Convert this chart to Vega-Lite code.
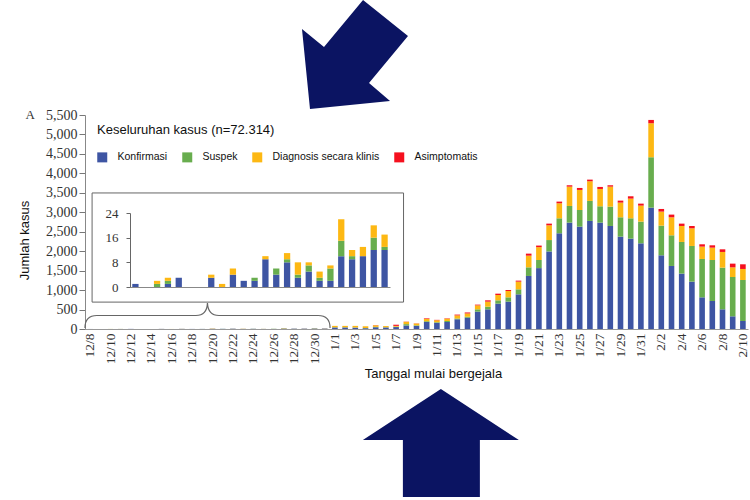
{
  "$schema": "https://vega.github.io/schema/vega-lite/v6.json",
  "width": 663,
  "height": 214,
  "autosize": "none",
  "padding": {"left": 85, "top": 115, "right": 2, "bottom": 171},
  "background": "white",
  "config": {"view": {"stroke": null}, "font": "Liberation Sans", "axis": {"grid": false}},
  "datasets": {
    "urutan": [
      {"kategori": "Konfirmasi", "urut": 1},
      {"kategori": "Suspek", "urut": 2},
      {"kategori": "Diagnosis secara klinis", "urut": 3},
      {"kategori": "Asimptomatis", "urut": 4}
    ],
    "kasus": [
      {"date": "2019-12-08", "Konfirmasi": 1, "Suspek": 0, "Diagnosis secara klinis": 0, "Asimptomatis": 0},
      {"date": "2019-12-09", "Konfirmasi": 0, "Suspek": 0, "Diagnosis secara klinis": 0, "Asimptomatis": 0},
      {"date": "2019-12-10", "Konfirmasi": 0, "Suspek": 1, "Diagnosis secara klinis": 1, "Asimptomatis": 0},
      {"date": "2019-12-11", "Konfirmasi": 1, "Suspek": 1, "Diagnosis secara klinis": 1, "Asimptomatis": 0},
      {"date": "2019-12-12", "Konfirmasi": 3, "Suspek": 0, "Diagnosis secara klinis": 0, "Asimptomatis": 0},
      {"date": "2019-12-13", "Konfirmasi": 0, "Suspek": 0, "Diagnosis secara klinis": 0, "Asimptomatis": 0},
      {"date": "2019-12-14", "Konfirmasi": 0, "Suspek": 0, "Diagnosis secara klinis": 0, "Asimptomatis": 0},
      {"date": "2019-12-15", "Konfirmasi": 3, "Suspek": 0, "Diagnosis secara klinis": 1, "Asimptomatis": 0},
      {"date": "2019-12-16", "Konfirmasi": 0, "Suspek": 0, "Diagnosis secara klinis": 1, "Asimptomatis": 0},
      {"date": "2019-12-17", "Konfirmasi": 4, "Suspek": 0, "Diagnosis secara klinis": 2, "Asimptomatis": 0},
      {"date": "2019-12-18", "Konfirmasi": 2, "Suspek": 0, "Diagnosis secara klinis": 0, "Asimptomatis": 0},
      {"date": "2019-12-19", "Konfirmasi": 2, "Suspek": 1, "Diagnosis secara klinis": 0, "Asimptomatis": 0},
      {"date": "2019-12-20", "Konfirmasi": 9, "Suspek": 0, "Diagnosis secara klinis": 1, "Asimptomatis": 0},
      {"date": "2019-12-21", "Konfirmasi": 4, "Suspek": 2, "Diagnosis secara klinis": 0, "Asimptomatis": 0},
      {"date": "2019-12-22", "Konfirmasi": 8, "Suspek": 1, "Diagnosis secara klinis": 2, "Asimptomatis": 0},
      {"date": "2019-12-23", "Konfirmasi": 3, "Suspek": 1, "Diagnosis secara klinis": 4, "Asimptomatis": 0},
      {"date": "2019-12-24", "Konfirmasi": 5, "Suspek": 2, "Diagnosis secara klinis": 1, "Asimptomatis": 0},
      {"date": "2019-12-25", "Konfirmasi": 2, "Suspek": 1, "Diagnosis secara klinis": 2, "Asimptomatis": 0},
      {"date": "2019-12-26", "Konfirmasi": 2, "Suspek": 4, "Diagnosis secara klinis": 1, "Asimptomatis": 0},
      {"date": "2019-12-27", "Konfirmasi": 10, "Suspek": 5, "Diagnosis secara klinis": 7, "Asimptomatis": 0},
      {"date": "2019-12-28", "Konfirmasi": 9, "Suspek": 1, "Diagnosis secara klinis": 2, "Asimptomatis": 0},
      {"date": "2019-12-29", "Konfirmasi": 10, "Suspek": 0, "Diagnosis secara klinis": 3, "Asimptomatis": 0},
      {"date": "2019-12-30", "Konfirmasi": 12, "Suspek": 4, "Diagnosis secara klinis": 4, "Asimptomatis": 0},
      {"date": "2019-12-31", "Konfirmasi": 12, "Suspek": 1, "Diagnosis secara klinis": 4, "Asimptomatis": 0},
      {"date": "2020-01-01", "Konfirmasi": 40, "Suspek": 5, "Diagnosis secara klinis": 35, "Asimptomatis": 0},
      {"date": "2020-01-02", "Konfirmasi": 40, "Suspek": 5, "Diagnosis secara klinis": 35, "Asimptomatis": 0},
      {"date": "2020-01-03", "Konfirmasi": 35, "Suspek": 5, "Diagnosis secara klinis": 40, "Asimptomatis": 0},
      {"date": "2020-01-04", "Konfirmasi": 20, "Suspek": 5, "Diagnosis secara klinis": 45, "Asimptomatis": 0},
      {"date": "2020-01-05", "Konfirmasi": 45, "Suspek": 10, "Diagnosis secara klinis": 40, "Asimptomatis": 5},
      {"date": "2020-01-06", "Konfirmasi": 40, "Suspek": 5, "Diagnosis secara klinis": 30, "Asimptomatis": 0},
      {"date": "2020-01-07", "Konfirmasi": 50, "Suspek": 10, "Diagnosis secara klinis": 20, "Asimptomatis": 30},
      {"date": "2020-01-08", "Konfirmasi": 90, "Suspek": 35, "Diagnosis secara klinis": 60, "Asimptomatis": 5},
      {"date": "2020-01-09", "Konfirmasi": 80, "Suspek": 15, "Diagnosis secara klinis": 45, "Asimptomatis": 5},
      {"date": "2020-01-10", "Konfirmasi": 180, "Suspek": 20, "Diagnosis secara klinis": 60, "Asimptomatis": 15},
      {"date": "2020-01-11", "Konfirmasi": 160, "Suspek": 15, "Diagnosis secara klinis": 50, "Asimptomatis": 10},
      {"date": "2020-01-12", "Konfirmasi": 180, "Suspek": 25, "Diagnosis secara klinis": 60, "Asimptomatis": 10},
      {"date": "2020-01-13", "Konfirmasi": 250, "Suspek": 20, "Diagnosis secara klinis": 80, "Asimptomatis": 20},
      {"date": "2020-01-14", "Konfirmasi": 290, "Suspek": 25, "Diagnosis secara klinis": 85, "Asimptomatis": 25},
      {"date": "2020-01-15", "Konfirmasi": 446, "Suspek": 60, "Diagnosis secara klinis": 102, "Asimptomatis": 18},
      {"date": "2020-01-16", "Konfirmasi": 506, "Suspek": 68, "Diagnosis secara klinis": 129, "Asimptomatis": 34},
      {"date": "2020-01-17", "Konfirmasi": 651, "Suspek": 86, "Diagnosis secara klinis": 137, "Asimptomatis": 34},
      {"date": "2020-01-18", "Konfirmasi": 703, "Suspek": 111, "Diagnosis secara klinis": 163, "Asimptomatis": 26},
      {"date": "2020-01-19", "Konfirmasi": 891, "Suspek": 129, "Diagnosis secara klinis": 197, "Asimptomatis": 26},
      {"date": "2020-01-20", "Konfirmasi": 1363, "Suspek": 222, "Diagnosis secara klinis": 300, "Asimptomatis": 52},
      {"date": "2020-01-21", "Konfirmasi": 1565, "Suspek": 209, "Diagnosis secara klinis": 330, "Asimptomatis": 40},
      {"date": "2020-01-22", "Konfirmasi": 1993, "Suspek": 293, "Diagnosis secara klinis": 379, "Asimptomatis": 43},
      {"date": "2020-01-23", "Konfirmasi": 2460, "Suspek": 385, "Diagnosis secara klinis": 386, "Asimptomatis": 43},
      {"date": "2020-01-24", "Konfirmasi": 2734, "Suspek": 428, "Diagnosis secara klinis": 497, "Asimptomatis": 35},
      {"date": "2020-01-25", "Konfirmasi": 2631, "Suspek": 428, "Diagnosis secara klinis": 515, "Asimptomatis": 51},
      {"date": "2020-01-26", "Konfirmasi": 2777, "Suspek": 514, "Diagnosis secara klinis": 506, "Asimptomatis": 42},
      {"date": "2020-01-27", "Konfirmasi": 2734, "Suspek": 420, "Diagnosis secara klinis": 445, "Asimptomatis": 52},
      {"date": "2020-01-28", "Konfirmasi": 2648, "Suspek": 497, "Diagnosis secara klinis": 514, "Asimptomatis": 35},
      {"date": "2020-01-29", "Konfirmasi": 2374, "Suspek": 497, "Diagnosis secara klinis": 377, "Asimptomatis": 51},
      {"date": "2020-01-30", "Konfirmasi": 2322, "Suspek": 523, "Diagnosis secara klinis": 506, "Asimptomatis": 60},
      {"date": "2020-01-31", "Konfirmasi": 2202, "Suspek": 558, "Diagnosis secara klinis": 411, "Asimptomatis": 51},
      {"date": "2020-02-01", "Konfirmasi": 3119, "Suspek": 1295, "Diagnosis secara klinis": 874, "Asimptomatis": 85},
      {"date": "2020-02-02", "Konfirmasi": 1894, "Suspek": 763, "Diagnosis secara klinis": 360, "Asimptomatis": 68},
      {"date": "2020-02-03", "Konfirmasi": 1620, "Suspek": 788, "Diagnosis secara klinis": 463, "Asimptomatis": 69},
      {"date": "2020-02-04", "Konfirmasi": 1423, "Suspek": 814, "Diagnosis secara klinis": 411, "Asimptomatis": 60},
      {"date": "2020-02-05", "Konfirmasi": 1217, "Suspek": 917, "Diagnosis secara klinis": 454, "Asimptomatis": 60},
      {"date": "2020-02-06", "Konfirmasi": 814, "Suspek": 986, "Diagnosis secara klinis": 317, "Asimptomatis": 60},
      {"date": "2020-02-07", "Konfirmasi": 720, "Suspek": 1054, "Diagnosis secara klinis": 317, "Asimptomatis": 60},
      {"date": "2020-02-08", "Konfirmasi": 506, "Suspek": 1071, "Diagnosis secara klinis": 403, "Asimptomatis": 68},
      {"date": "2020-02-09", "Konfirmasi": 326, "Suspek": 1011, "Diagnosis secara klinis": 248, "Asimptomatis": 95},
      {"date": "2020-02-10", "Konfirmasi": 206, "Suspek": 1054, "Diagnosis secara klinis": 283, "Asimptomatis": 120}
    ]
  },
  "layer": [
    {
      "layer": [
        {
          "data": {"name": "kasus"},
          "transform": [
            {"fold": ["Konfirmasi", "Suspek", "Diagnosis secara klinis", "Asimptomatis"], "as": ["kategori", "jumlah"]},
            {"lookup": "kategori", "from": {"data": {"name": "urutan"}, "key": "kategori", "fields": ["urut"]}}
          ],
          "mark": {"type": "bar"},
          "encoding": {
            "x": {
              "field": "date", "type": "ordinal",
              "scale": {"paddingInner": 0.45, "paddingOuter": 0.225},
              "axis": {
                "title": "Tanggal mulai bergejala",
                "values": ["2019-12-08","2019-12-10","2019-12-12","2019-12-14","2019-12-16","2019-12-18","2019-12-20","2019-12-22","2019-12-24","2019-12-26","2019-12-28","2019-12-30","2020-01-01","2020-01-03","2020-01-05","2020-01-07","2020-01-09","2020-01-11","2020-01-13","2020-01-15","2020-01-17","2020-01-19","2020-01-21","2020-01-23","2020-01-25","2020-01-27","2020-01-29","2020-01-31","2020-02-02","2020-02-04","2020-02-06","2020-02-08","2020-02-10"],
                "labelExpr": "utcFormat(toDate(datum.value), '%-m/%-d')",
                "labelAngle": -90,
                "labelFont": "Liberation Serif",
                "labelFontSize": 13.5,
                "labelColor": "#333",
                "ticks": false,
                "labelPadding": 4,
                "domainColor": "#999",
                "titleFont": "Liberation Sans",
                "titleFontSize": 13,
                "titleFontWeight": "normal",
                "titleColor": "#111",
                "titlePadding": 4,
                "titleX": 348
              }
            },
            "y": {
              "field": "jumlah", "type": "quantitative", "stack": "zero",
              "scale": {"domain": [0, 5500]},
              "axis": {
                "title": "Jumlah kasus",
                "values": [0, 500, 1000, 1500, 2000, 2500, 3000, 3500, 4000, 4500, 5000, 5500],
                "tickCount": 20,
                "format": ",d",
                "labelOverlap": false,
                "labelFont": "Liberation Serif",
                "labelFontSize": 14,
                "labelColor": "#333",
                "tickSize": 6,
                "tickColor": "#777",
                "domainColor": "#888",
                "labelPadding": 2,
                "titleFont": "Liberation Sans",
                "titleFontSize": 13,
                "titleFontWeight": "normal",
                "titleColor": "#111",
                "titleY": 125,
                "titlePadding": 14
              }
            },
            "color": {
              "field": "kategori", "type": "nominal",
              "scale": {
                "domain": ["Konfirmasi", "Suspek", "Diagnosis secara klinis", "Asimptomatis"],
                "range": ["#3e55a3", "#68ad4e", "#fdb813", "#f5101e"]
              },
              "legend": {
                "orient": "none",
                "legendX": 12,
                "legendY": 9,
                "direction": "horizontal",
                "title": "Keseluruhan kasus (n=72.314)",
                "titleFont": "Liberation Sans",
                "titleFontSize": 13,
                "titleFontWeight": "normal",
                "titleColor": "#111",
                "titlePadding": 15,
                "labelFont": "Liberation Sans",
                "labelFontSize": 10.5,
                "labelColor": "#111",
                "symbolType": "square",
                "symbolSize": 100,
                "symbolStrokeWidth": 0,
                "labelOffset": 10,
                "columnPadding": 14,
                "padding": 0
              }
            },
            "order": {"field": "urut", "type": "quantitative", "sort": "ascending"}
          }
        },
        {
          "data": {"values": [{}]},
          "mark": {"type": "point", "shape": "M-0.958,0.102Q-0.958,0,-0.86,0L-0.052,0Q0.038,0,0.042,-0.102Q0.047,0,0.136,0L0.945,0Q1.043,0,1.043,0.102", "size": 60025, "filled": false, "stroke": "#666", "strokeWidth": 1.2, "opacity": 1},
          "encoding": {
            "x": {"datum": "2019-12-19", "type": "ordinal"},
            "y": {"datum": 347, "type": "quantitative", "scale": {"domain": [0, 5500]}, "axis": null}
          }
        },
        {
          "data": {"values": [{}]},
          "mark": {"type": "point", "shape": "M0.138,-0.973L0.941,-0.33L0.245,0.509L0.62,0.83L-0.809,0.973L-0.952,-0.455L-0.559,-0.134Z", "size": 12544, "filled": true, "color": "#0b1462", "opacity": 1, "strokeWidth": 0},
          "encoding": {
            "x": {"datum": "2020-01-03", "type": "ordinal"},
            "y": {"datum": 7055, "type": "quantitative", "scale": {"domain": [0, 5500]}, "axis": null}
          }
        },
        {
          "data": {"values": [{}]},
          "mark": {"type": "point", "shape": "M0.051,-0.692L1.051,-0.038L0.551,-0.038L0.551,0.692L-0.436,0.692L-0.436,-0.038L-0.949,-0.038Z", "size": 24336, "filled": true, "color": "#0b1462", "opacity": 1, "strokeWidth": 0},
          "encoding": {
            "x": {"datum": "2020-01-11", "type": "ordinal"},
            "y": {"datum": -2930, "type": "quantitative", "scale": {"domain": [0, 5500]}, "axis": null}
          }
        },
        {
          "data": {"values": [{}]},
          "mark": {"type": "text", "text": "A", "font": "Liberation Serif", "fontSize": 13, "color": "#333", "dx": -60, "align": "center", "baseline": "middle"},
          "encoding": {
            "x": {"datum": "2019-12-08", "type": "ordinal"},
            "y": {"datum": 5500, "type": "quantitative", "scale": {"domain": [0, 5500]}, "axis": null}
          }
        }
      ],
      "resolve": {"scale": {"y": "independent"}}
    },
    {
      "data": {"name": "kasus"},
      "transform": [
        {"filter": "datum.date < '2020'"},
        {"fold": ["Konfirmasi", "Suspek", "Diagnosis secara klinis", "Asimptomatis"], "as": ["kategori", "jumlah"]},
        {"lookup": "kategori", "from": {"data": {"name": "urutan"}, "key": "kategori", "fields": ["urut"]}}
      ],
      "mark": {"type": "bar"},
      "encoding": {
        "x": {
          "field": "date", "type": "ordinal",
          "scale": {"range": [45, 305], "paddingInner": 0.42, "paddingOuter": 0.21},
          "axis": {"orient": "bottom", "offset": -42, "labels": false, "ticks": false, "domainColor": "#888", "title": null}
        },
        "y": {
          "field": "jumlah", "type": "quantitative", "stack": "zero",
          "scale": {"domain": [0, 24], "range": [172, 98]},
          "axis": {"orient": "left", "offset": -45, "values": [0, 8, 16, 24], "tickCount": 10, "labelFont": "Liberation Serif", "labelFontSize": 13, "labelColor": "#333", "tickSize": 4, "tickColor": "#666", "domainColor": "#666", "labelPadding": 8, "title": null}
        },
        "color": {"field": "kategori", "type": "nominal"},
        "order": {"field": "urut", "type": "quantitative", "sort": "ascending"}
      }
    },
    {
      "data": {"values": [{}]},
      "mark": {"type": "rect", "fillOpacity": 0, "stroke": "#666", "strokeWidth": 1},
      "encoding": {
        "x": {"datum": -3.5, "type": "quantitative", "scale": {"domain": [0, 24], "range": [45, 305]}, "axis": null},
        "x2": {"datum": 25.25},
        "y": {"datum": -4.9, "type": "quantitative", "scale": {"domain": [0, 24], "range": [172, 98]}, "axis": null},
        "y2": {"datum": 30.5}
      }
    }
  ],
  "resolve": {"scale": {"x": "independent", "y": "independent"}}
}
